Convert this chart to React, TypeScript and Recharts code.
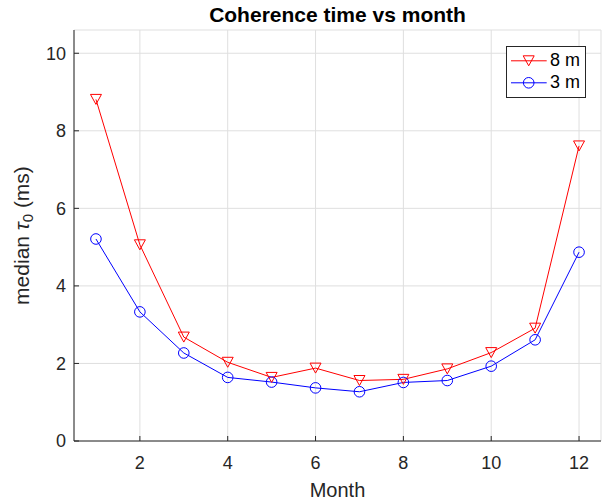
import { LineChart, Line, XAxis, YAxis, CartesianGrid, Legend } from 'recharts'

const months = [1, 2, 3, 4, 5, 6, 7, 8, 9, 10, 11, 12]
const tau8m = [8.81, 5.06, 2.68, 2.03, 1.64, 1.88, 1.56, 1.59, 1.86, 2.28, 2.91, 7.61]
const tau3m = [5.21, 3.33, 2.27, 1.64, 1.52, 1.37, 1.27, 1.51, 1.56, 1.93, 2.61, 4.87]
const xTicks = [2, 4, 6, 8, 10, 12]
const yTicks = [0, 2, 4, 6, 8, 10]
const seriesOrder = ['m8', 'm3']

const data = months.map((month, i) => ({ month, m8: tau8m[i], m3: tau3m[i] }))

const FONT = '"Liberation Sans", Arial, Helvetica, sans-serif'
const AXIS = '#262626'
const RED = '#ff0000'
const BLUE = '#0000ff'

function Triangle({ cx, cy, stroke }: { cx: number; cy: number; stroke: string }) {
  return (
    <path
      d={`M${cx - 5.5},${cy - 5} L${cx + 5.5},${cy - 5} L${cx},${cy + 5} Z`}
      fill="none"
      stroke={stroke}
      strokeWidth={1}
    />
  )
}

function Circle({ cx, cy, stroke }: { cx: number; cy: number; stroke: string }) {
  return <circle cx={cx} cy={cy} r={5.3} fill="none" stroke={stroke} strokeWidth={1} />
}

function MatlabLegend({ payload }: any) {
  const items = [...(payload || [])].sort(
    (a: any, b: any) => seriesOrder.indexOf(a.dataKey) - seriesOrder.indexOf(b.dataKey)
  )
  return (
    <div
      style={{
        width: 78,
        height: 47,
        border: `1px solid ${AXIS}`,
        background: '#fff',
        paddingTop: 3,
        boxSizing: 'content-box',
        fontFamily: FONT,
        fontSize: 18,
        color: '#000',
      }}
    >
      {items.map((entry: any) => (
        <div key={entry.value} style={{ display: 'flex', alignItems: 'center', height: 21.6 }}>
          <svg width={43} height={21.6} style={{ display: 'block' }}>
            <line x1={4} x2={39.7} y1={10.8} y2={10.8} stroke={entry.color} strokeWidth={1} />
            {entry.dataKey === 'm8' ? (
              <Triangle cx={21.7} cy={10.8} stroke={entry.color} />
            ) : (
              <Circle cx={21.7} cy={10.8} stroke={entry.color} />
            )}
          </svg>
          <span style={{ lineHeight: '21.6px' }}>{entry.value}</span>
        </div>
      ))}
    </div>
  )
}

function YLabel({ viewBox }: any) {
  const cx = viewBox.x + 29
  const cy = viewBox.y + viewBox.height / 2
  return (
    <text
      x={cx}
      y={cy}
      transform={`rotate(-90 ${cx} ${cy})`}
      textAnchor="middle"
      fontFamily={FONT}
      fontSize={21}
      fill={AXIS}
    >
      {'median '}
      <tspan fontStyle="italic">τ</tspan>
      <tspan dy={4} fontSize={15}>0</tspan>
      <tspan dy={-4}>{' (ms)'}</tspan>
    </text>
  )
}

function XLabel({ viewBox }: any) {
  return (
    <text
      x={viewBox.x + viewBox.width / 2}
      y={viewBox.y + 55.5}
      textAnchor="middle"
      fontFamily={FONT}
      fontSize={20}
      fill={AXIS}
    >
      Month
    </text>
  )
}

const tickStyle = { fill: AXIS, fontSize: 18, fontFamily: FONT }

export default function App() {
  return (
    <div style={{ position: 'absolute', left: 0, top: 0, width: 602, height: 501, background: '#fff' }}>
      <div
        style={{
          position: 'absolute',
          left: 74,
          width: 527,
          top: 4,
          textAlign: 'center',
          fontFamily: FONT,
          fontSize: 21,
          lineHeight: '21px',
          fontWeight: 'bold',
          color: '#000',
          zIndex: 1,
        }}
      >
        Coherence time vs month
      </div>
      <LineChart width={602} height={501} data={data} margin={{ top: 30, right: 1, bottom: 0, left: 0 }}>
        <CartesianGrid stroke="#dfdfdf" strokeWidth={1} />
        <XAxis
          type="number"
          dataKey="month"
          domain={[0.5, 12.5]}
          ticks={xTicks}
          interval={0}
          height={60}
          stroke={AXIS}
          tick={tickStyle}
          tickSize={-5}
          tickMargin={20}
          label={{ content: (p: any) => <XLabel {...p} /> }}
        />
        <XAxis
          xAxisId="top"
          orientation="top"
          type="number"
          dataKey="month"
          domain={[0.5, 12.5]}
          ticks={xTicks}
          interval={0}
          height={0}
          stroke={AXIS}
          tickSize={-5}
          tickFormatter={() => ''}
        />
        <YAxis
          type="number"
          domain={[0, 10.6]}
          ticks={yTicks}
          interval={0}
          width={74}
          stroke={AXIS}
          tick={tickStyle}
          tickSize={-5}
          tickMargin={13}
          label={{ content: (p: any) => <YLabel {...p} /> }}
        />
        <YAxis
          yAxisId="right"
          orientation="right"
          type="number"
          domain={[0, 10.6]}
          ticks={yTicks}
          interval={0}
          width={0}
          stroke={AXIS}
          tickSize={-5}
          tickFormatter={() => ''}
        />
        <Legend
          layout="vertical"
          align="center"
          verticalAlign="middle"
          wrapperStyle={{ top: 46, left: 506, width: 'auto' }}
          content={(p: any) => <MatlabLegend {...p} />}
        />
        <Line
          name="8 m"
          dataKey="m8"
          xAxisId="top"
          yAxisId="right"
          stroke={RED}
          strokeWidth={1}
          isAnimationActive={false}
          activeDot={false}
          dot={(p: any) => <Triangle key={`t${p.index}`} cx={p.cx} cy={p.cy} stroke={RED} />}
        />
        <Line
          name="3 m"
          dataKey="m3"
          stroke={BLUE}
          strokeWidth={1}
          isAnimationActive={false}
          activeDot={false}
          dot={(p: any) => <Circle key={`c${p.index}`} cx={p.cx} cy={p.cy} stroke={BLUE} />}
        />
      </LineChart>
    </div>
  )
}
